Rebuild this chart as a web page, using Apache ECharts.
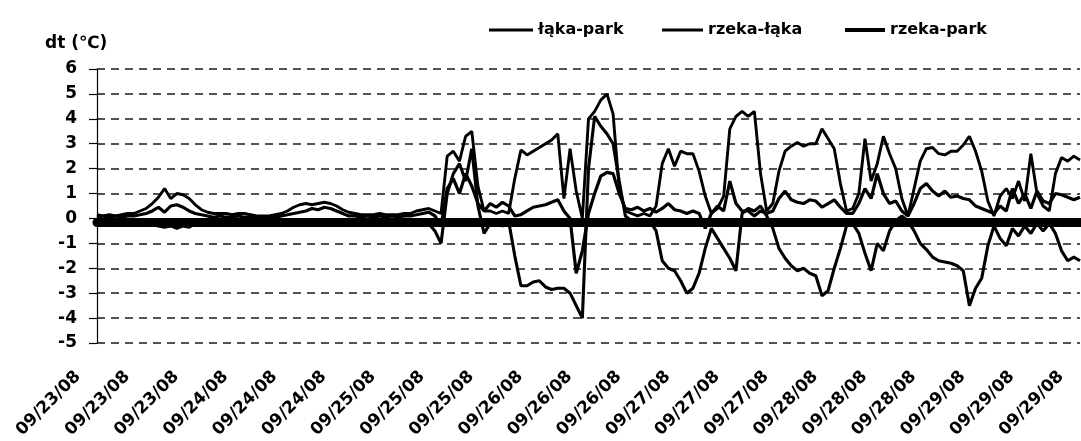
<!DOCTYPE html>
<html>
<head>
<meta charset="utf-8">
<script src="https://cdn.jsdelivr.net/npm/echarts@6/dist/echarts.min.js"></script>
<style>
  html, body { margin: 0; padding: 0; background: #fff; }
  #chart { width: 1081px; height: 441px; }
</style>
</head>
<body>
<div id="chart"></div>
<script>
// Hourly temperature differences, 09/23/08 00:00 onward (one row = 8 hours)
const lakaPark = [
  0.15, 0.1, 0.15, 0.1, 0.15, 0.2, 0.2, 0.3,
  0.4, 0.6, 0.85, 1.2, 0.8, 1.0, 0.95, 0.8,
  0.55, 0.35, 0.25, 0.2, 0.2, 0.2, 0.15, 0.2,
  0.2, 0.15, 0.1, 0.1, 0.1, 0.15, 0.2, 0.3,
  0.45, 0.55, 0.6, 0.55, 0.6, 0.65, 0.6, 0.5,
  0.35, 0.25, 0.2, 0.15, 0.15, 0.15, 0.2, 0.15,
  0.15, 0.15, 0.2, 0.2, 0.3, 0.35, 0.4, 0.3,
  0.2, 2.5, 2.7, 2.3, 3.3, 3.5, 1.3, 0.3,
  0.3, 0.2, 0.3, 0.2, 1.6, 2.75, 2.55, 2.7,
  2.85, 3.0, 3.15, 3.4, 0.8, 2.8, 1.1, 0.0,
  4.0, 4.3, 4.75, 5.0, 4.2, 1.2, 0.3, 0.2,
  0.1, 0.2, 0.1, 0.5, 2.2, 2.8, 2.1, 2.7,
  2.6, 2.6, 1.9, 0.9, 0.2, 0.4, 0.9, 3.6,
  4.1, 4.3, 4.1, 4.3, 1.8, 0.3, 0.6, 1.9,
  2.7, 2.9, 3.05, 2.9, 3.0, 3.0, 3.6, 3.2,
  2.8, 1.4, 0.3, 0.4, 1.0, 3.2, 1.5, 2.2,
  3.3, 2.6, 2.0, 0.8, 0.1, 1.2, 2.3, 2.8,
  2.85, 2.6, 2.55, 2.7, 2.7, 2.95, 3.3, 2.7,
  1.9, 0.7, 0.1, 0.9, 1.2, 0.8, 1.5, 0.7,
  2.6, 1.0, 0.5, 0.3, 1.8, 2.45, 2.3, 2.5,
  2.35
];
const rzekaLaka = [
  -0.1, -0.15, -0.1, -0.2, -0.1, -0.15, -0.1, -0.15,
  -0.2, -0.25, -0.3, -0.35, -0.3, -0.4, -0.3, -0.35,
  -0.2, -0.15, -0.1, -0.15, -0.1, -0.15, -0.1, -0.1,
  -0.05, -0.1, -0.05, -0.1, -0.1, -0.05, -0.1, -0.1,
  -0.15, -0.1, -0.15, -0.1, -0.15, -0.1, -0.15, -0.1,
  -0.1, -0.05, -0.1, -0.05, -0.1, -0.05, -0.1, -0.05,
  -0.1, -0.05, -0.1, -0.1, -0.05, -0.1, -0.2, -0.5,
  -1.0, 1.0, 1.8, 2.2, 1.5, 2.8, 0.5, -0.6,
  -0.2, -0.1, -0.3, -0.1, -1.5, -2.7, -2.7, -2.55,
  -2.5, -2.75, -2.85, -2.8, -2.8, -3.0, -3.5, -4.0,
  2.0, 4.1, 3.7, 3.4, 3.0, 1.5, 0.1, -0.1,
  -0.05, -0.15, -0.1, -0.5, -1.7, -2.0, -2.1, -2.5,
  -3.0, -2.8, -2.2, -1.2, -0.4, -0.8, -1.2, -1.6,
  -2.1, 0.2, 0.4, 0.3, 0.5, 0.1, -0.4, -1.2,
  -1.6, -1.9, -2.1, -2.0, -2.2, -2.3, -3.1, -2.9,
  -2.0, -1.2, -0.3, -0.2, -0.6, -1.4, -2.1, -1.0,
  -1.3, -0.5, -0.1, 0.1, -0.1, -0.5, -1.0, -1.25,
  -1.55, -1.7, -1.75, -1.8, -1.9, -2.1, -3.5, -2.8,
  -2.4, -1.1, -0.3, -0.8, -1.1, -0.4, -0.7, -0.3,
  -0.6, -0.2, -0.5, -0.2, -0.6, -1.3, -1.7, -1.55,
  -1.7
];
const rzekaPark = [
  0.05, 0.1, 0.05, 0.1, 0.05, 0.1, 0.1, 0.15,
  0.2, 0.3, 0.45, 0.25, 0.5, 0.55, 0.45, 0.3,
  0.2, 0.15, 0.1, 0.05, 0.1, 0.05, 0.05, 0.1,
  0.05, 0.05, 0.0, 0.05, 0.0, 0.05, 0.1, 0.15,
  0.2, 0.25, 0.3, 0.4, 0.35, 0.45, 0.4, 0.3,
  0.2, 0.1, 0.1, 0.05, 0.1, 0.05, 0.1, 0.05,
  0.1, 0.05, 0.1, 0.1, 0.15, 0.2, 0.25, 0.1,
  -0.3, 1.2, 1.6, 1.0, 1.8, 1.3, 0.6, 0.3,
  0.6, 0.45, 0.65, 0.5, 0.1, 0.15, 0.3, 0.45,
  0.5, 0.55, 0.65, 0.75, 0.3, 0.0, -2.2, -1.3,
  0.2, 1.0, 1.7, 1.85, 1.8, 1.0, 0.4, 0.35,
  0.45, 0.3, 0.4, 0.25, 0.4, 0.6, 0.35, 0.3,
  0.2, 0.3, 0.2, -0.4, 0.2, 0.5, 0.3, 1.5,
  0.6, 0.3, 0.3, 0.1, 0.3, 0.2, 0.3, 0.8,
  1.1, 0.75, 0.65, 0.6, 0.75, 0.7, 0.45, 0.6,
  0.75, 0.45, 0.2, 0.2, 0.6, 1.2, 0.8, 1.8,
  1.0, 0.6, 0.7, 0.3, 0.1, 0.6, 1.2, 1.4,
  1.1, 0.9, 1.1, 0.85, 0.9, 0.8, 0.75, 0.5,
  0.4, 0.3, 0.2, 0.5, 0.3, 1.2, 0.6, 1.0,
  0.4, 1.1, 0.7, 0.6, 1.0, 0.95, 0.85, 0.75,
  0.85
];

const seriesNames = ['łąka-park', 'rzeka-łąka', 'rzeka-park'];
const days = ['09/23/08', '09/24/08', '09/25/08', '09/26/08', '09/27/08', '09/28/08', '09/29/08'];
const yMin = -5, yMax = 6, yStep = 1;
const labelEvery = 8; // hours between date labels

// one category per hour
const categories = lakaPark.map((_, i) =>
  days[Math.floor(i / 24)] + ' ' + String(i % 24).padStart(2, '0') + ':00');

const FONT = 'DejaVu Sans';
const chart = echarts.init(document.getElementById('chart'), null, { renderer: 'canvas' });

const legendCommon = {
  top: 22, orient: 'horizontal', icon: 'rect', padding: 0,
  itemStyle: { color: '#000' },
  textStyle: { fontFamily: FONT, fontSize: 16, fontWeight: 'bold', color: '#000' },
  selectedMode: false
};

chart.setOption({
  animation: false,
  backgroundColor: '#fff',
  color: ['#000', '#000', '#000'],
  title: {
    text: 'dt (℃)', left: 45, top: 35, padding: 0,
    textStyle: { fontFamily: FONT, fontSize: 17, fontWeight: 'bold', color: '#000' }
  },
  legend: [
    Object.assign({ left: 489, itemWidth: 44, itemHeight: 3, data: [seriesNames[0]] }, legendCommon),
    Object.assign({ left: 662, itemWidth: 41, itemHeight: 3, data: [seriesNames[1]] }, legendCommon),
    Object.assign({ left: 845, itemWidth: 40, itemHeight: 4, data: [seriesNames[2]] }, legendCommon)
  ],
  grid: [
    { left: 97, right: 1, top: 69, bottom: 98 },   // plotted lines
    { left: 78, right: 20, top: 69, bottom: 98 },  // date labels
    { left: 97, right: 1, top: 73, bottom: 94 }    // heavy zero axis
  ],
  xAxis: [
    {
      gridIndex: 0, type: 'category', data: categories, boundaryGap: false,
      axisLine: { show: false }, axisTick: { show: false },
      axisLabel: { show: false }, splitLine: { show: false }
    },
    {
      gridIndex: 1, type: 'category', data: categories, boundaryGap: false,
      position: 'bottom',
      axisLine: { show: false, onZero: false }, axisTick: { show: false },
      splitLine: { show: false },
      axisLabel: {
        interval: labelEvery - 1, rotate: 45, margin: 31,
        fontFamily: FONT, fontSize: 17, fontWeight: 'bold', color: '#000',
        formatter: v => v.split(' ')[0]
      }
    },
    {
      gridIndex: 2, type: 'category', data: categories, boundaryGap: false,
      axisLine: { show: true, onZero: true, lineStyle: { color: '#000', width: 9 } },
      axisTick: { show: false }, axisLabel: { show: false }, splitLine: { show: false }
    }
  ],
  yAxis: [
    {
      gridIndex: 0, type: 'value', min: yMin, max: yMax, interval: yStep,
      axisLine: { show: true, lineStyle: { color: '#000', width: 1.2 } },
      axisTick: { show: true, length: 8, lineStyle: { color: '#000', width: 1.2 } },
      axisLabel: { margin: 20, fontFamily: FONT, fontSize: 17, fontWeight: 'bold', color: '#000' },
      splitLine: { show: true, lineStyle: { color: '#1a1a1a', width: 1.5, type: [8, 6] } }
    },
    { gridIndex: 1, type: 'value', min: yMin, max: yMax, interval: yStep, show: false },
    { gridIndex: 2, type: 'value', min: yMin, max: yMax, interval: yStep, show: false }
  ],
  series: [
    { name: seriesNames[0], type: 'line', data: lakaPark, symbol: 'none',
      lineStyle: { color: '#000', width: 2.9 }, itemStyle: { color: '#000' } },
    { name: seriesNames[1], type: 'line', data: rzekaLaka, symbol: 'none',
      lineStyle: { color: '#000', width: 3.1 }, itemStyle: { color: '#000' } },
    { name: seriesNames[2], type: 'line', data: rzekaPark, symbol: 'none',
      lineStyle: { color: '#000', width: 3.2 }, itemStyle: { color: '#000' } }
  ]
});
</script>
</body>
</html>
